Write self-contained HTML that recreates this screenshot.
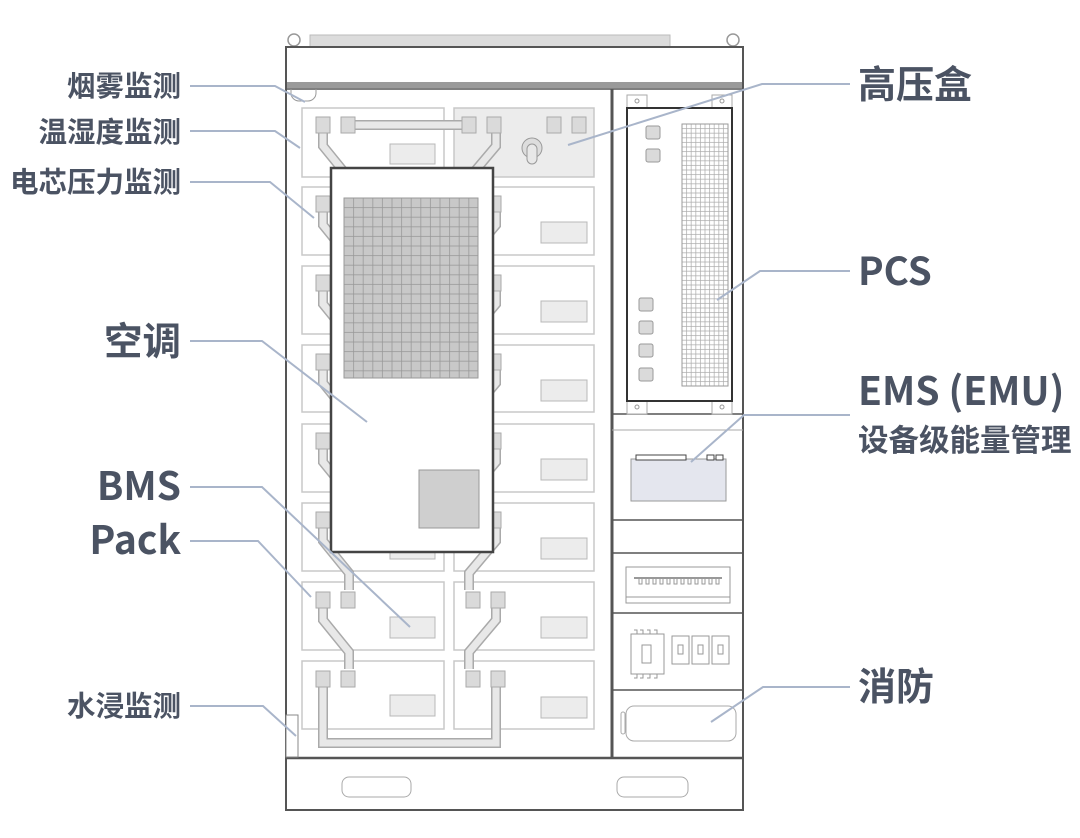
<!DOCTYPE html>
<html><head><meta charset="utf-8"><style>
html,body{margin:0;padding:0;background:#fff;}
svg{display:block}
text{font-family:"Noto Sans CJK SC","Liberation Sans",sans-serif;font-weight:bold;fill:#4b5363}
</style></head><body>
<svg width="1080" height="838" viewBox="0 0 1080 838" xmlns="http://www.w3.org/2000/svg">
<defs>
<pattern id="g1" x="344" y="198" width="9.6" height="9.6" patternUnits="userSpaceOnUse"><rect width="9.6" height="9.6" fill="#c8c8c8" stroke="#999" stroke-width="0.8"/></pattern>
<pattern id="g2" x="682" y="124" width="4.6" height="4.6" patternUnits="userSpaceOnUse"><rect width="4.6" height="4.6" fill="#fff" stroke="#aaa" stroke-width="0.7"/></pattern>
</defs>
<rect x="310" y="35" width="360" height="12" fill="#dcdcdc" stroke="#bbb"/>
<circle cx="294" cy="40" r="6" fill="#fff" stroke="#999" stroke-width="1.5"/>
<circle cx="733" cy="40" r="6" fill="#fff" stroke="#999" stroke-width="1.5"/>
<rect x="286" y="47" width="457" height="763" fill="#fff" stroke="#555" stroke-width="2"/>
<rect x="287" y="82" width="455" height="6" fill="#9a9a9a"/>
<line x1="286" y1="89" x2="743" y2="89" stroke="#555" stroke-width="1.5"/>
<path d="M291 89 v4 a8 8 0 0 0 8 8 h9 a8 8 0 0 0 8 -8 v-4" fill="none" stroke="#999"/>
<line x1="612" y1="89" x2="612" y2="758" stroke="#555" stroke-width="3"/>
<line x1="286" y1="758" x2="743" y2="758" stroke="#555" stroke-width="2.5"/>
<rect x="342" y="777" width="69" height="20" rx="7" fill="#fff" stroke="#aaa"/>
<rect x="617" y="777" width="71" height="20" rx="7" fill="#fff" stroke="#aaa"/>
<rect x="286" y="715" width="12" height="42" fill="#fff" stroke="#888"/>
<g fill="#fff" stroke="#c8c8c8" stroke-width="1.5">
<rect x="302" y="108" width="142" height="69"/><rect x="454" y="108" width="140" height="69" fill="#ececec"/>
<rect x="302" y="187" width="142" height="68"/><rect x="454" y="187" width="140" height="68"/>
<rect x="302" y="266" width="142" height="68"/><rect x="454" y="266" width="140" height="68"/>
<rect x="302" y="345" width="142" height="67"/><rect x="454" y="345" width="140" height="67"/>
<rect x="302" y="424" width="142" height="68"/><rect x="454" y="424" width="140" height="68"/>
<rect x="302" y="503" width="142" height="68"/><rect x="454" y="503" width="140" height="68"/>
<rect x="302" y="582" width="142" height="68"/><rect x="454" y="582" width="140" height="68"/>
<rect x="302" y="661" width="142" height="68"/><rect x="454" y="661" width="140" height="68"/>
</g>
<g fill="#ececec" stroke="#b8b8b8" stroke-width="1">
<rect x="390" y="144" width="45" height="20"/>
<rect x="541" y="222" width="46" height="21"/><rect x="541" y="301" width="46" height="21"/>
<rect x="541" y="380" width="46" height="21"/><rect x="541" y="459" width="46" height="21"/>
<rect x="541" y="538" width="46" height="21"/><rect x="541" y="617" width="46" height="21"/>
<rect x="541" y="697" width="46" height="21"/>
<rect x="390" y="538" width="45" height="21"/><rect x="390" y="617" width="45" height="21"/>
<rect x="390" y="695" width="45" height="21"/>
</g>
<g fill="none" stroke-linejoin="miter">
<g stroke="#aaa" stroke-width="10">
<path d="M323 132 v14 l26 32 v17"/><path d="M323 211 v14 l26 32 v17"/><path d="M323 290 v14 l26 32 v17"/><path d="M323 369 v14 l26 32 v17"/><path d="M323 448 v14 l26 32 v17"/><path d="M323 527 v14 l26 32 v17"/><path d="M323 606 v14 l26 32 v17"/>
<path d="M496 132 v14 l-27 32 v17"/><path d="M496 211 v14 l-27 32 v17"/><path d="M496 290 v14 l-27 32 v17"/><path d="M496 369 v14 l-27 32 v17"/><path d="M496 448 v14 l-27 32 v17"/><path d="M496 527 v14 l-27 32 v17"/><path d="M496 606 v14 l-27 32 v17"/>
<path d="M323 685 v58 h173 v-58"/><path d="M355 125 h108"/>
</g>
<g stroke="#e8e8e8" stroke-width="7">
<path d="M323 132 v14 l26 32 v17"/><path d="M323 211 v14 l26 32 v17"/><path d="M323 290 v14 l26 32 v17"/><path d="M323 369 v14 l26 32 v17"/><path d="M323 448 v14 l26 32 v17"/><path d="M323 527 v14 l26 32 v17"/><path d="M323 606 v14 l26 32 v17"/>
<path d="M496 132 v14 l-27 32 v17"/><path d="M496 211 v14 l-27 32 v17"/><path d="M496 290 v14 l-27 32 v17"/><path d="M496 369 v14 l-27 32 v17"/><path d="M496 448 v14 l-27 32 v17"/><path d="M496 527 v14 l-27 32 v17"/><path d="M496 606 v14 l-27 32 v17"/>
<path d="M323 685 v58 h173 v-58"/><path d="M355 125 h108"/>
</g>
</g>
<g fill="#dadada" stroke="#aaa" stroke-width="1">
<rect x="316" y="117" width="14" height="16"/><rect x="341" y="117" width="14" height="16"/><rect x="462" y="117" width="14" height="16"/><rect x="487" y="117" width="14" height="16"/>
<rect x="316" y="196" width="14" height="16"/><rect x="341" y="196" width="14" height="16"/><rect x="462" y="196" width="14" height="16"/><rect x="487" y="196" width="14" height="16"/>
<rect x="316" y="275" width="14" height="16"/><rect x="341" y="275" width="14" height="16"/><rect x="462" y="275" width="14" height="16"/><rect x="487" y="275" width="14" height="16"/>
<rect x="316" y="354" width="14" height="16"/><rect x="341" y="354" width="14" height="16"/><rect x="462" y="354" width="14" height="16"/><rect x="487" y="354" width="14" height="16"/>
<rect x="316" y="433" width="14" height="16"/><rect x="341" y="433" width="14" height="16"/><rect x="462" y="433" width="14" height="16"/><rect x="487" y="433" width="14" height="16"/>
<rect x="316" y="512" width="14" height="16"/><rect x="341" y="512" width="14" height="16"/><rect x="462" y="512" width="14" height="16"/><rect x="487" y="512" width="14" height="16"/>
<rect x="316" y="592" width="14" height="16"/><rect x="341" y="592" width="14" height="16"/><rect x="466" y="592" width="14" height="16"/><rect x="491" y="592" width="14" height="16"/>
<rect x="316" y="671" width="14" height="16"/><rect x="341" y="671" width="14" height="16"/><rect x="466" y="671" width="14" height="16"/><rect x="491" y="671" width="14" height="16"/>
<rect x="547" y="117" width="14" height="16"/><rect x="572" y="117" width="14" height="16"/>
</g>
<ellipse cx="532" cy="148" rx="10" ry="10" fill="#ddd" stroke="#999"/>
<rect x="527" y="144" width="10" height="20" rx="5" fill="#e8e8e8" stroke="#999"/>
<rect x="331" y="168" width="162" height="384" fill="#fff" stroke="#444" stroke-width="2.5"/>
<rect x="344" y="198" width="134" height="180" fill="url(#g1)" stroke="#999"/>
<rect x="419" y="470" width="60" height="58" fill="#cfcfcf" stroke="#999"/>
<g stroke="#555" stroke-width="1.5">
<line x1="612" y1="414" x2="743" y2="414"/><line x1="612" y1="430" x2="743" y2="430" stroke="#aaa" stroke-width="1"/>
<line x1="612" y1="520" x2="743" y2="520"/><line x1="612" y1="553" x2="743" y2="553"/>
<line x1="612" y1="613" x2="743" y2="613"/><line x1="612" y1="690" x2="743" y2="690"/>
</g>
<rect x="627" y="95" width="20" height="13" fill="#fff" stroke="#aaa"/><rect x="712" y="95" width="20" height="13" fill="#fff" stroke="#aaa"/>
<rect x="627" y="401" width="20" height="13" fill="#fff" stroke="#aaa"/><rect x="712" y="401" width="20" height="13" fill="#fff" stroke="#aaa"/>
<circle cx="637" cy="101" r="2" fill="none" stroke="#999"/><circle cx="722" cy="101" r="2" fill="none" stroke="#999"/>
<circle cx="637" cy="407" r="2" fill="none" stroke="#999"/><circle cx="722" cy="407" r="2" fill="none" stroke="#999"/>
<rect x="627" y="108" width="105" height="293" fill="#fff" stroke="#333" stroke-width="2"/>
<rect x="682" y="124" width="46" height="262" fill="url(#g2)" stroke="#999"/>
<g fill="#dadada" stroke="#999">
<rect x="646" y="126" width="14" height="13" rx="2"/><rect x="646" y="149" width="14" height="13" rx="2"/>
<rect x="639" y="298" width="14" height="13" rx="2"/><rect x="639" y="321" width="14" height="13" rx="2"/><rect x="639" y="344" width="14" height="13" rx="2"/><rect x="639" y="368" width="14" height="13" rx="2"/>
</g>
<rect x="631" y="459" width="95" height="42" fill="#e4e6ee" stroke="#999"/>
<rect x="636" y="455" width="50" height="5" fill="#fff" stroke="#444"/>
<rect x="707" y="455" width="7" height="5" fill="#fff" stroke="#444"/><rect x="716" y="455" width="7" height="5" fill="#fff" stroke="#444"/>
<rect x="626" y="567" width="104" height="36" fill="#fff" stroke="#999"/>
<line x1="626" y1="597" x2="730" y2="597" stroke="#999"/>
<line x1="634" y1="578" x2="722" y2="578" stroke="#999" stroke-width="2"/>
<g fill="none" stroke="#999"><path d="M639 579v5h3v-5M646 579v5h3v-5M653 579v5h3v-5M660 579v5h3v-5M667 579v5h3v-5M674 579v5h3v-5M681 579v5h3v-5M688 579v5h3v-5M695 579v5h3v-5M702 579v5h3v-5M709 579v5h3v-5M716 579v5h3v-5"/></g>
<rect x="631" y="634" width="33" height="40" fill="#fff" stroke="#999"/>
<rect x="642" y="645" width="9" height="18" fill="#fff" stroke="#999"/>
<path d="M634 630h3v4M640 630h3v4M647 630h3v4M654 630h3v4M634 678h3v-4M640 678h3v-4M647 678h3v-4M654 678h3v-4" fill="none" stroke="#999"/>
<rect x="672" y="636" width="17" height="28" fill="#fff" stroke="#999"/><rect x="692" y="636" width="17" height="28" fill="#fff" stroke="#999"/><rect x="712" y="636" width="17" height="28" fill="#fff" stroke="#999"/>
<rect x="678" y="645" width="5" height="9" fill="none" stroke="#999"/><rect x="698" y="645" width="5" height="9" fill="none" stroke="#999"/><rect x="718" y="645" width="5" height="9" fill="none" stroke="#999"/>
<rect x="626" y="706" width="110" height="35" rx="8" fill="#fff" stroke="#aaa"/>
<rect x="621" y="712" width="4" height="22" rx="2" fill="#fff" stroke="#aaa"/>
<g fill="none" stroke="#a9b5ca" stroke-width="2">
<path d="M190 86 H275 L305 102"/>
<path d="M190 131 H275 L300 148"/>
<path d="M190 182 H270 L314 218"/>
<path d="M190 341 H262 L367 422"/>
<path d="M190 487 H262 L410 627"/>
<path d="M190 541 H258 L311 597"/>
<path d="M190 706 H263 L296 736"/>
<path d="M850 84 H762 L568 145"/>
<path d="M850 271 H760 L717 300"/>
<path d="M850 415 H744 L691 462"/>
<path d="M850 687 H763 L711 722"/>
</g>
<g text-anchor="end">
<text x="181" y="96" font-size="28.5">烟雾监测</text>
<text x="181" y="142" font-size="28.5">温湿度监测</text>
<text x="181" y="192" font-size="28.5">电芯压力监测</text>
<text x="181" y="355" font-size="38.5">空调</text>
<text x="181" y="500" font-size="39">BMS</text>
<text x="181" y="554" font-size="39">Pack</text>
<text x="181" y="716" font-size="28.5">水浸监测</text>
</g>
<text x="858" y="98" font-size="38">高压盒</text>
<text x="858" y="285" font-size="38.5">PCS</text>
<text x="858" y="405" font-size="39">EMS (EMU)</text>
<text x="858" y="451" font-size="30.5">设备级能量管理</text>
<text x="858" y="700" font-size="38">消防</text>
</svg>
</body></html>
